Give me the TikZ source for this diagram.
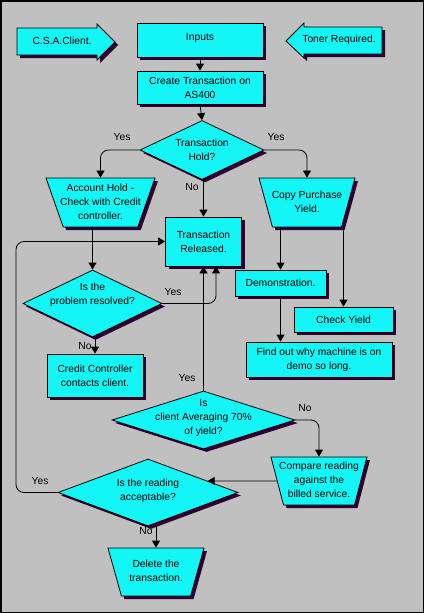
\documentclass[tikz,border=0pt]{standalone}
\usepackage{fontspec}
\setmainfont{Liberation Sans}
\usetikzlibrary{shapes.geometric,shadows,arrows.meta,calc}
\definecolor{bg}{RGB}{192,192,192}
\definecolor{cy}{RGB}{20,245,245}
\definecolor{shcol}{RGB}{48,0,48}
\begin{document}
\begin{tikzpicture}[x=1pt,y=-1pt,
  font=\fontsize{10.3}{14}\selectfont,
  shad/.style={drop shadow={shadow xshift=3pt,shadow yshift=-3pt,fill=shcol,opacity=1}},
  shp/.style={draw=black,fill=cy,line width=0.8pt,shad,inner sep=0pt},
  box/.style={shp,rectangle,align=center},
  dia/.style={shp,diamond,inner sep=2pt},
  trap/.style={shp,trapezium,trapezium stretches=true,shape border rotate=180,inner sep=2pt},
  txt/.style={align=center,inner sep=0pt},
  lbl/.style={inner sep=0pt},
  arr/.style={line width=0.8pt,-{Triangle[width=8pt,length=7pt]}},
  ln/.style={line width=0.8pt}]
\useasboundingbox (0,0) rectangle (424,613);
\fill[bg] (0,0) rectangle (424,613);
\draw[line width=1.5pt] (0.75,0.75) rectangle (423.25,612.25);

% input arrows
\path[shp] (17,28) -- (97,28) -- (97,24) -- (115,42) -- (97,60) -- (97,55) -- (17,55) -- cycle;
\node[txt] (csa) at (62,41) {C.S.A.Client.};
\path[shp] (286,41) -- (304,23) -- (304,27) -- (382,27) -- (382,54) -- (304,54) -- (304,58) -- cycle;
\node[txt] (toner) at (339,40) {Toner Required.};

% boxes
\node[box,minimum width=126,minimum height=34] (inputs) at (200,40) {};
\node[txt] (inputst) at (200,38) {Inputs};
\node[box,minimum width=126,minimum height=33] (create) at (200,87.5) {Create Transaction on\\AS400};
\node[dia,minimum width=124,minimum height=59] (hold) at (202,150) {};
\node[txt] (holdt) at (202,150) {Transaction\\Hold?};
\node[trap,trapezium angle=77,minimum width=109,minimum height=49] (acct) at (100.5,202.5) {};
\node[txt] (acctt) at (100.5,202) {Account Hold -\\Check with Credit\\controller.};
\node[trap,trapezium angle=79,minimum width=96,minimum height=49] (copy) at (307,202.5) {};
\node[txt] (copyt) at (307,202) {Copy Purchase\\Yield.};
\node[box,minimum width=76,minimum height=49] (released) at (203.5,241.5) {Transaction\\Released.};
\node[dia,minimum width=139,minimum height=67] (resolved) at (92.5,303.5) {};
\node[txt] (resolvedt) at (92.5,295) {Is the\\problem resolved?};
\node[box,minimum width=91,minimum height=26] (demo) at (280.5,283) {Demonstration.};
\node[box,minimum width=99,minimum height=25] (check) at (343.5,319.5) {Check Yield};
\node[box,minimum width=146,minimum height=35] (findout) at (319,359.5) {Find out why machine is on\\demo so long.};
\node[box,minimum width=96,minimum height=43] (credit) at (95,375.5) {Credit Controller\\contacts client.};
\node[dia,minimum width=183,minimum height=58] (avg) at (203.5,420) {};
\node[txt] (avgt) at (203.5,418) {Is\\client Averaging 70\%\\of yield?};
\node[trap,trapezium angle=80,minimum width=96,minimum height=48] (compare) at (319,481) {};
\node[txt] (comparet) at (319,480) {Compare reading\\against the\\billed service.};
\node[dia,minimum width=180,minimum height=67] (accept) at (148,492.5) {};
\node[txt] (acceptt) at (148,491) {Is the reading\\acceptable?};
\node[trap,trapezium angle=79,minimum width=96,minimum height=48] (delete) at (156,572) {};
\node[txt] (deletet) at (156,571) {Delete the\\transaction.};

% connectors
\draw[arr] (inputs.south) -- (create.north);
\draw[arr] (create.south) -- (hold.north);
\draw[arr,rounded corners=8pt] (hold.west) -| (acct.north);
\draw[arr,rounded corners=8pt] (hold.east) -| (copy.north);
\draw[arr] (released.north |- hold.south) -- (released.north);
\draw[arr] (resolved.north |- acct.south) -- (resolved.north);
\coordinate (rin) at ($(released.south)+(12.5,0)$);
\draw[arr,rounded corners=8pt] (resolved.east) -| (rin);
\draw[arr] (credit.north |- resolved.south) -- (credit.north);
\draw[arr] (demo.north |- copy.south) -- (demo.north);
\draw[arr] (check.north |- copy.south) -- (check.north);
\draw[arr] (demo.south) -- (demo.south |- findout.north);
\draw[arr] (avg.north) -- (released.south);
\draw[arr,rounded corners=8pt] (avg.east) -| (compare.north);
\coordinate (acceptin) at ($(accept.north)!0.66!(accept.east)$);
\draw[arr] (compare.west) -- (acceptin);
\coordinate (loopc) at (16,400);
\draw[arr,rounded corners=8pt] (accept.west) -| (loopc) |- (released.west);
\draw[arr] (delete.north |- accept.south) -- (delete.north);

% labels
\node[lbl] (y1) at (122,137) {Yes};
\node[lbl] (y2) at (276,137) {Yes};
\node[lbl] (n1) at (192,187) {No};
\node[lbl] (y3) at (173,292) {Yes};
\node[lbl] (n2) at (85,346) {No};
\node[lbl] (y4) at (187,378) {Yes};
\node[lbl] (n3) at (305,408) {No};
\node[lbl] (y5) at (40,481) {Yes};
\node[lbl] (n4) at (146,531) {No};
\end{tikzpicture}
\end{document}
